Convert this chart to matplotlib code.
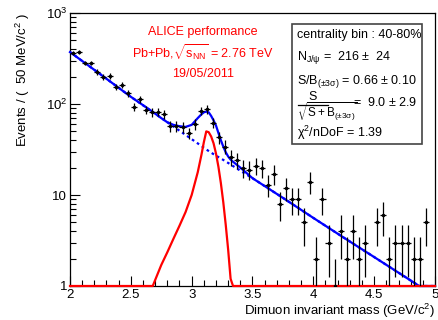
import numpy as np
import matplotlib
matplotlib.use("Agg")
import matplotlib.pyplot as plt
from matplotlib.patches import Rectangle
from matplotlib.ticker import MultipleLocator, FixedLocator, FixedFormatter, FuncFormatter, NullFormatter

plt.rcParams['font.family'] = ['Liberation Sans', 'DejaVu Sans']
plt.rcParams['mathtext.fontset'] = 'custom'
plt.rcParams['mathtext.rm'] = 'Liberation Sans'
plt.rcParams['mathtext.it'] = 'Liberation Sans:italic'
plt.rcParams['mathtext.sf'] = 'Liberation Sans'

# histogram: 50 MeV bins from 2 to 5 GeV/c^2
mass_lo = 2.0
bin_width = 0.05
counts = [363, 373, 282, 282, 225, 198, 203, 154, 162, 132,
          93, 113, 86, 81, 82, 77, 57, 57, 56, 48,
          60, 84, 88, 62, 43, 34, 26, 24, 20, 19,
          21, 20, 13, 17, 8, 12, 9, 9, 5, 14,
          2, 9, 3, 1, 4, 2, 4, 2, 3, 0,
          5, 6, 2, 3, 3, 3, 2, 2, 5, 0]

# fit curves
fit_mass = [2.0, 2.25, 2.5, 2.68, 2.75, 2.8, 2.85, 2.9, 2.95, 3.0,
            3.05, 3.08, 3.1, 3.12, 3.14, 3.16, 3.18, 3.2, 3.22, 3.24,
            3.26, 3.28, 3.3, 3.32, 3.34, 3.4, 3.5, 3.75, 4.0, 4.25,
            4.5, 4.75, 4.87, 5.0]
fit_total = [372, 212, 120, 82, 70, 63, 59, 57, 56, 59,
             70, 77, 81, 82.5, 81, 74, 66, 58, 48, 40,
             34, 29.5, 26.5, 24.5, 23.2, 20.0, 15.3, 9.3, 5.6, 3.4,
             2.08, 1.27, 1.0, 0.77]
fit_bkg = [372, 212, 120, 81.6, 70.2, 63.1, 56.7, 50.9, 45.7, 41.1,
           36.9, 34.6, 33.1, 31.7, 30.4, 29.2, 28.1, 27.1, 26.1, 25.2,
           24.3, 23.4, 22.5, 21.7, 20.8, 18.5, 15.3, 9.3, 5.6, 3.4,
           2.08, 1.27, 1.0, 0.77]
fit_sig = [0, 0, 0.1, 1.0, 1.7, 2.35, 3.3, 4.6, 6.5, 10,
           17.8, 27.5, 38, 50, 49, 44, 37, 28.5, 20.4, 13.5,
           8.3, 4.7, 2.5, 1.2, 0.6, 0, 0, 0, 0, 0,
           0, 0, 0, 0]

fig = plt.figure(figsize=(4.39, 3.20), dpi=100)
ax = fig.add_axes([70/439, 1-286/320, 365/439, 273/320])
ax.set_yscale('log')

# ROOT draws curves below the frame on the frame itself
ax.plot(fit_mass, np.clip(fit_bkg, 1, None), color='#0000ff', lw=1.6, ls=(0, (1.2, 1.5)), zorder=2)
ax.plot(fit_mass, np.clip(fit_total, 1, None), color='#0000ff', lw=1.6, zorder=3, clip_on=False)
ax.plot(fit_mass, np.clip(fit_sig, 1, None), color='#ff0000', lw=1.6, zorder=3.5, clip_on=False)

n = np.array(counts, float)
centers = mass_lo + bin_width * (np.arange(len(n)) + 0.5)
keep = n > 0
err = np.sqrt(n[keep])
lo = np.minimum(err, n[keep] * 0.999)
ax.errorbar(centers[keep], n[keep], yerr=[lo, err], xerr=bin_width/2,
            fmt='o', ms=1.5, color='black', ecolor='black', elinewidth=0.9,
            capsize=0, zorder=4)

ax.set_xlim(2, 5)
ax.set_ylim(1, 1000)

ax.xaxis.set_major_locator(MultipleLocator(0.5))
ax.xaxis.set_minor_locator(MultipleLocator(0.1))
ax.xaxis.set_major_formatter(FuncFormatter(lambda v, p: '%g' % v))
ax.yaxis.set_major_locator(FixedLocator([1, 10, 100, 1000]))
ax.yaxis.set_major_formatter(FixedFormatter(['1', '10', '10$^2$', '10$^3$']))
ax.yaxis.set_minor_locator(FixedLocator([k * 10**d for d in range(3) for k in range(2, 10)]))
ax.yaxis.set_minor_formatter(NullFormatter())
ax.tick_params(which='both', direction='in', top=False, right=False, labelsize=9.5, width=0.8)
ax.tick_params(which='major', length=7, pad=2)
ax.tick_params(which='minor', length=4)
for s in ax.spines.values():
    s.set_linewidth(0.9)

ax.set_xlabel('Dimuon invariant mass (GeV/c$^2$)', fontsize=9.5, ha='right', va='center')
ax.xaxis.set_label_coords(1.0, -0.092)
ax.set_ylabel('Events / (  50 MeV/c$^2$ )', loc='top', fontsize=9.5, labelpad=10)

# ALICE labels
red = '#ff0000'
ax.text(0.364, 0.93, 'ALICE performance', transform=ax.transAxes, color=red,
        fontsize=9, ha='center', va='center')
ax.text(0.364, 0.855, r'Pb+Pb,$\sqrt{\mathrm{s_{NN}}}$ = 2.76 TeV', transform=ax.transAxes,
        color=red, fontsize=9, ha='center', va='center')
ax.text(0.364, 0.778, '19/05/2011', transform=ax.transAxes, color=red,
        fontsize=9, ha='center', va='center')

# fit results box
def px(x, y):
    return ((x - 70) / 365, (286 - y) / 273)

bx0, by0 = px(292, 144)
bx1, by1 = px(422, 24)
ax.add_patch(Rectangle((bx0, by0), bx1 - bx0, by1 - by0, transform=ax.transAxes,
                       facecolor='white', edgecolor='#444444', lw=1.2, zorder=5))
lines = [
    (297, 35, 'centrality bin : 40-80%'),
    (297, 58, r'N$_{\mathrm{J/\psi}}$ =  216 $\pm$  24'),
    (297, 81, r'S/B$_{\mathrm{(\pm3\sigma)}}$ = 0.66 $\pm$ 0.10'),
    (353, 103, r'=  9.0 $\pm$ 2.9'),
    (297, 133, r'$\mathrm{\chi}^{2}$/nDoF = 1.39'),
]
for xp, yp, s in lines:
    ax.text(*px(xp, yp), s, transform=ax.transAxes, fontsize=9,
            ha='left', va='center', zorder=6)
# S / sqrt(S+B) fraction
ax.text(*px(313, 97), 'S', transform=ax.transAxes, fontsize=9, ha='center', va='center', zorder=6)
ax.plot([px(298, 0)[0], px(328, 0)[0]], [px(0, 104.5)[1]] * 2, transform=ax.transAxes,
        color='black', lw=0.9, zorder=6, clip_on=False)
ax.text(*px(297, 112), r'$\sqrt{\mathrm{S+B_{(\pm3\sigma)}}}$', transform=ax.transAxes,
        fontsize=8.5, ha='left', va='center', zorder=6)

fig.savefig('out.png', dpi=100)
